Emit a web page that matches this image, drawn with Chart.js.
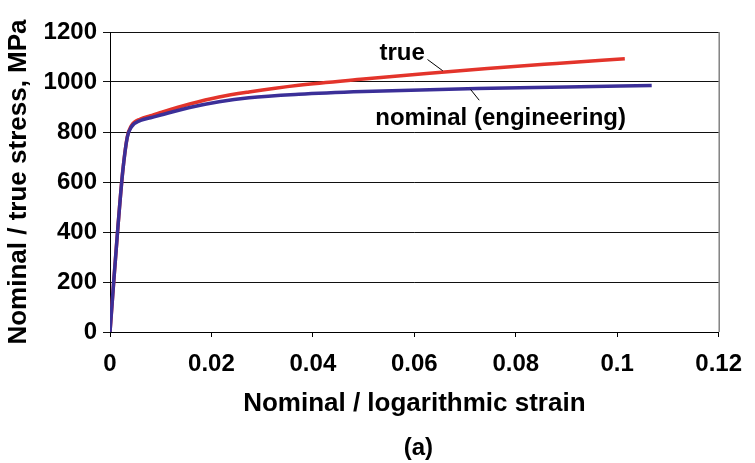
<!DOCTYPE html>
<html>
<head>
<meta charset="utf-8">
<script src="https://cdn.jsdelivr.net/npm/chart.js@4"></script>
<style>
  html, body { margin: 0; padding: 0; background: #fff; }
  #wrap { width: 755px; height: 463px; }
</style>
</head>
<body>
<div id="wrap"><canvas id="stressChart" width="755" height="463"></canvas></div>
<script>
// stress-strain curves: true (log strain) vs nominal (engineering)
const strainTrue = [0, 0.0008, 0.0016, 0.0025, 0.0034, 0.0042, 0.006, 0.008, 0.01, 0.0157, 0.0215, 0.0274, 0.0372, 0.05, 0.0624, 0.0744, 0.088, 0.1015];
const stressTrue = [0, 220, 430, 640, 780, 825, 852, 865, 878, 912, 940, 960, 987, 1012, 1034, 1054, 1074, 1093];

const strainNominal = [0, 0.0008, 0.0016, 0.0025, 0.0034, 0.0042, 0.006, 0.008, 0.01, 0.0157, 0.0215, 0.0274, 0.0372, 0.05, 0.0724, 0.09, 0.1068];
const stressNominal = [0, 220, 430, 640, 778, 820, 846, 857, 868, 898, 921, 937, 951, 962, 974, 980, 986];

const xTicks = [0, 0.02, 0.04, 0.06, 0.08, 0.1, 0.12];
const yTicks = [0, 200, 400, 600, 800, 1000, 1200];

// label text + anchor (data coords) + leader line ends
const labelTrue = { text: 'true', x: 0.0576, y: 1087, from: [0.0626, 1090], to: [0.0656, 1045] };
const labelNominal = { text: 'nominal (engineering)', x: 0.0523, y: 827, from: [0.0711, 970], to: [0.0728, 927] };

const FONT = '"Liberation Sans", Arial, Helvetica, sans-serif';
const RED = '#e3342b';
const BLUE = '#3b2f98';

const pts = (xs, ys) => xs.map((x, i) => ({ x: x, y: ys[i] }));

// frame on the right edge, curve labels and panel caption
const extras = {
    id: 'extras',
    afterDraw(chart) {
        const { ctx, chartArea: a, scales: { x, y } } = chart;
        ctx.save();
        ctx.strokeStyle = '#444';
        ctx.lineWidth = 1;
        ctx.beginPath();
        ctx.moveTo(a.right + 0.5, a.top);
        ctx.lineTo(a.right + 0.5, a.bottom);
        ctx.stroke();

        ctx.fillStyle = '#000';
        ctx.font = 'bold 24px ' + FONT;
        ctx.textBaseline = 'alphabetic';
        ctx.textAlign = 'center';
        ctx.fillText(labelTrue.text, x.getPixelForValue(labelTrue.x), y.getPixelForValue(labelTrue.y));
        ctx.textAlign = 'left';
        ctx.fillText(labelNominal.text, x.getPixelForValue(labelNominal.x), y.getPixelForValue(labelNominal.y));

        ctx.strokeStyle = '#000';
        [labelTrue, labelNominal].forEach(l => {
            ctx.beginPath();
            ctx.moveTo(x.getPixelForValue(l.from[0]), y.getPixelForValue(l.from[1]));
            ctx.lineTo(x.getPixelForValue(l.to[0]), y.getPixelForValue(l.to[1]));
            ctx.stroke();
        });

        ctx.font = 'bold 24px ' + FONT;
        ctx.textAlign = 'center';
        ctx.textBaseline = 'middle';
        ctx.fillText('(a)', (a.left + a.right) / 2 + 4, 448);
        ctx.restore();
    }
};

new Chart(document.getElementById('stressChart'), {
    type: 'line',
    data: {
        datasets: [
            {
                label: 'nominal (engineering)',
                data: pts(strainNominal, stressNominal),
                borderColor: BLUE,
                borderWidth: 3.5,
                pointRadius: 0,
                cubicInterpolationMode: 'monotone'
            },
            {
                label: 'true',
                data: pts(strainTrue, stressTrue),
                borderColor: RED,
                borderWidth: 3.5,
                pointRadius: 0,
                cubicInterpolationMode: 'monotone'
            }
        ]
    },
    options: {
        responsive: false,
        animation: false,
        layout: { padding: { left: 3, top: 32, right: 32, bottom: 44 } },
        plugins: { legend: { display: false }, tooltip: { enabled: false } },
        scales: {
            x: {
                type: 'linear',
                min: 0,
                max: 0.12,
                afterBuildTicks: s => { s.ticks = xTicks.map(v => ({ value: v })); },
                afterFit: s => { s.height = 87; },
                ticks: {
                    color: '#000',
                    font: { family: FONT, size: 24, weight: 'bold' },
                    padding: 13,
                    maxRotation: 0,
                    callback: v => String(+v.toFixed(2))
                },
                grid: { drawOnChartArea: false, color: '#000', tickLength: 5 },
                border: { color: '#000', width: 1 },
                title: {
                    display: true,
                    text: 'Nominal / logarithmic strain',
                    color: '#000',
                    font: { family: FONT, size: 26, weight: 'bold' },
                    padding: 0
                }
            },
            y: {
                min: 0,
                max: 1200,
                afterBuildTicks: s => { s.ticks = yTicks.map(v => ({ value: v })); },
                afterFit: s => { s.width = 107; },
                ticks: {
                    color: '#000',
                    font: { family: FONT, size: 24, weight: 'bold' },
                    padding: 6,
                    callback: v => String(v)
                },
                grid: { color: '#111', lineWidth: 1, tickLength: 7 },
                border: { color: '#000', width: 1 },
                title: {
                    display: true,
                    text: 'Nominal / true stress, MPa',
                    color: '#000',
                    font: { family: FONT, size: 26, weight: 'bold' },
                    padding: 0
                }
            }
        }
    },
    plugins: [extras]
});
</script>
</body>
</html>
